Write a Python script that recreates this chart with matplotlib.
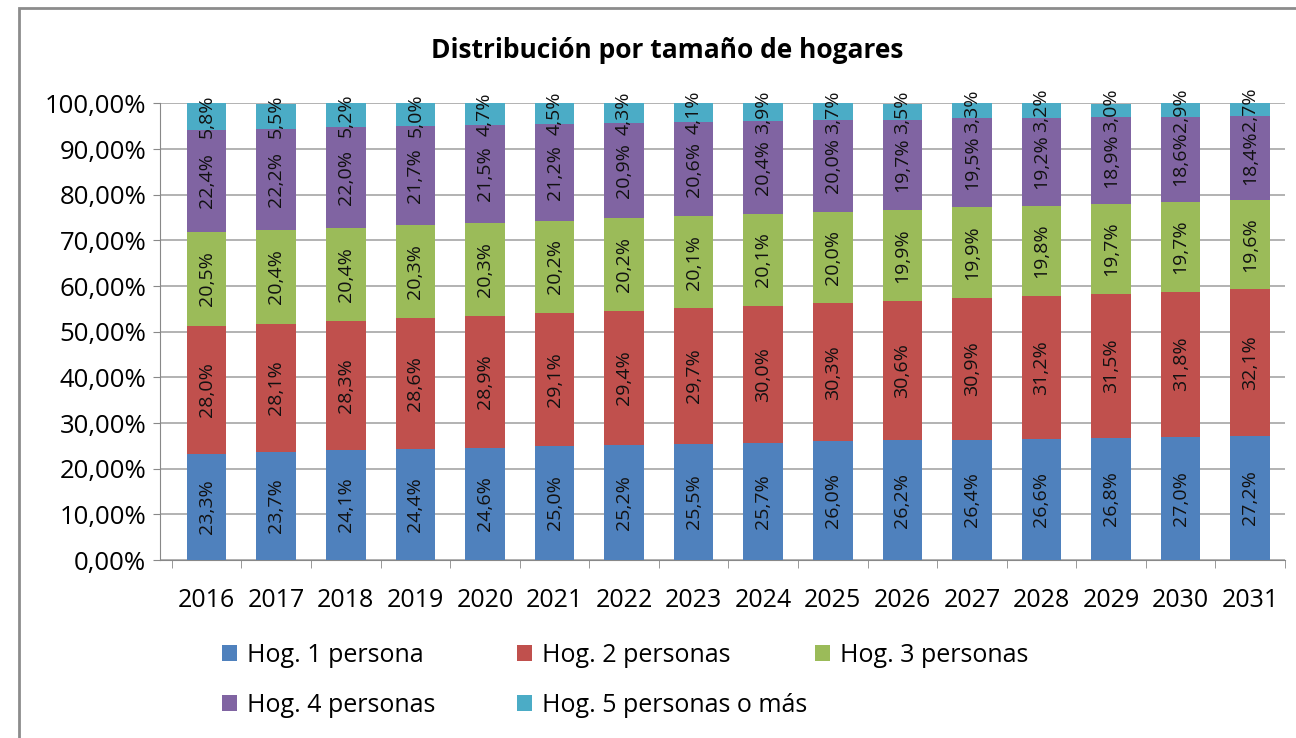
import numpy as np
import matplotlib.pyplot as plt
from matplotlib.patches import Rectangle

plt.rcParams['font.family'] = ['Open Sans', 'DejaVu Sans']

anios = ['2016', '2017', '2018', '2019', '2020', '2021', '2022', '2023',
         '2024', '2025', '2026', '2027', '2028', '2029', '2030', '2031']
hog1 = [23.3, 23.7, 24.1, 24.4, 24.6, 25.0, 25.2, 25.5, 25.7, 26.0, 26.2, 26.4, 26.6, 26.8, 27.0, 27.2]
hog2 = [28.0, 28.1, 28.3, 28.6, 28.9, 29.1, 29.4, 29.7, 30.0, 30.3, 30.6, 30.9, 31.2, 31.5, 31.8, 32.1]
hog3 = [20.5, 20.4, 20.4, 20.3, 20.3, 20.2, 20.2, 20.1, 20.1, 20.0, 19.9, 19.9, 19.8, 19.7, 19.7, 19.6]
hog4 = [22.4, 22.2, 22.0, 21.7, 21.5, 21.2, 20.9, 20.6, 20.4, 20.0, 19.7, 19.5, 19.2, 18.9, 18.6, 18.4]
hog5 = [5.8, 5.5, 5.2, 5.0, 4.7, 4.5, 4.3, 4.1, 3.9, 3.7, 3.5, 3.3, 3.2, 3.0, 2.9, 2.7]

series = [hog1, hog2, hog3, hog4, hog5]
nombres = ['Hog. 1 persona', 'Hog. 2 personas', 'Hog. 3 personas',
           'Hog. 4 personas', 'Hog. 5 personas o más']
colores = ['#4F81BD', '#C0504D', '#9BBB59', '#8064A2', '#4BACC6']

fig = plt.figure(figsize=(12.96, 7.38), dpi=100)
# marco exterior del gráfico
fig.patches.append(Rectangle((19 / 1296, -0.05), 1.1, 1 - 8 / 738 + 0.05,
                             transform=fig.transFigure, fill=False,
                             edgecolor='#8C8C8C', linewidth=2))

ax = fig.add_axes([0.1235, 0.241, 0.868, 0.619])
x = np.arange(len(anios))
base = np.zeros(len(anios))
for vals, nombre, color in zip(series, nombres, colores):
    vals = np.array(vals)
    ax.bar(x, vals, 0.57, bottom=base, color=color, label=nombre, zorder=3)
    for xi, b, v in zip(x, base, vals):
        ax.text(xi, b + v / 2, f'{v:.1f}%'.replace('.', ','), rotation=90,
                ha='center', va='center', fontsize=14, color='#111111', zorder=4)
    base += vals

ax.set_ylim(0, 100)
ax.set_xlim(-0.67, len(anios) - 0.5)
ax.set_yticks(np.arange(0, 101, 10))
ax.set_yticklabels([f'{v:.2f}%'.replace('.', ',') for v in np.arange(0, 101, 10)],
                   fontsize=18.5)
ax.set_xticks(x)
ax.set_xticklabels(anios, fontsize=18)
ax.set_xticks(np.arange(-0.5, len(anios), 1), minor=True)
ax.tick_params(axis='x', which='major', length=0, pad=20)
ax.tick_params(axis='x', which='minor', length=6, color='#888888')
ax.tick_params(axis='y', length=5, color='#888888', pad=5)
ax.grid(axis='y', color='#A6A6A6', linewidth=1.2, zorder=0)
for s in ['top', 'right']:
    ax.spines[s].set_visible(False)
for s in ['left', 'bottom']:
    ax.spines[s].set_color('#888888')

fig.text(0.515, 0.932, 'Distribución por tamaño de hogares', ha='center', va='center',
         fontsize=19, fontweight='bold')

# leyenda en dos filas con columnas de ancho fijo, como en Excel
handles, labels = ax.get_legend_handles_labels()
pos_x = [222, 517, 815, 222, 517]
pos_y = [655, 655, 655, 705, 705]
for h, l, px, py in zip(handles, labels, pos_x, pos_y):
    fig.legend([h], [l], loc='center left', bbox_to_anchor=(px / 1296, 1 - py / 738),
               frameon=False, fontsize=18, handlelength=0.6, handleheight=0.6,
               handletextpad=0.4, borderpad=0, borderaxespad=0)

fig.savefig('out.png', dpi=100)
